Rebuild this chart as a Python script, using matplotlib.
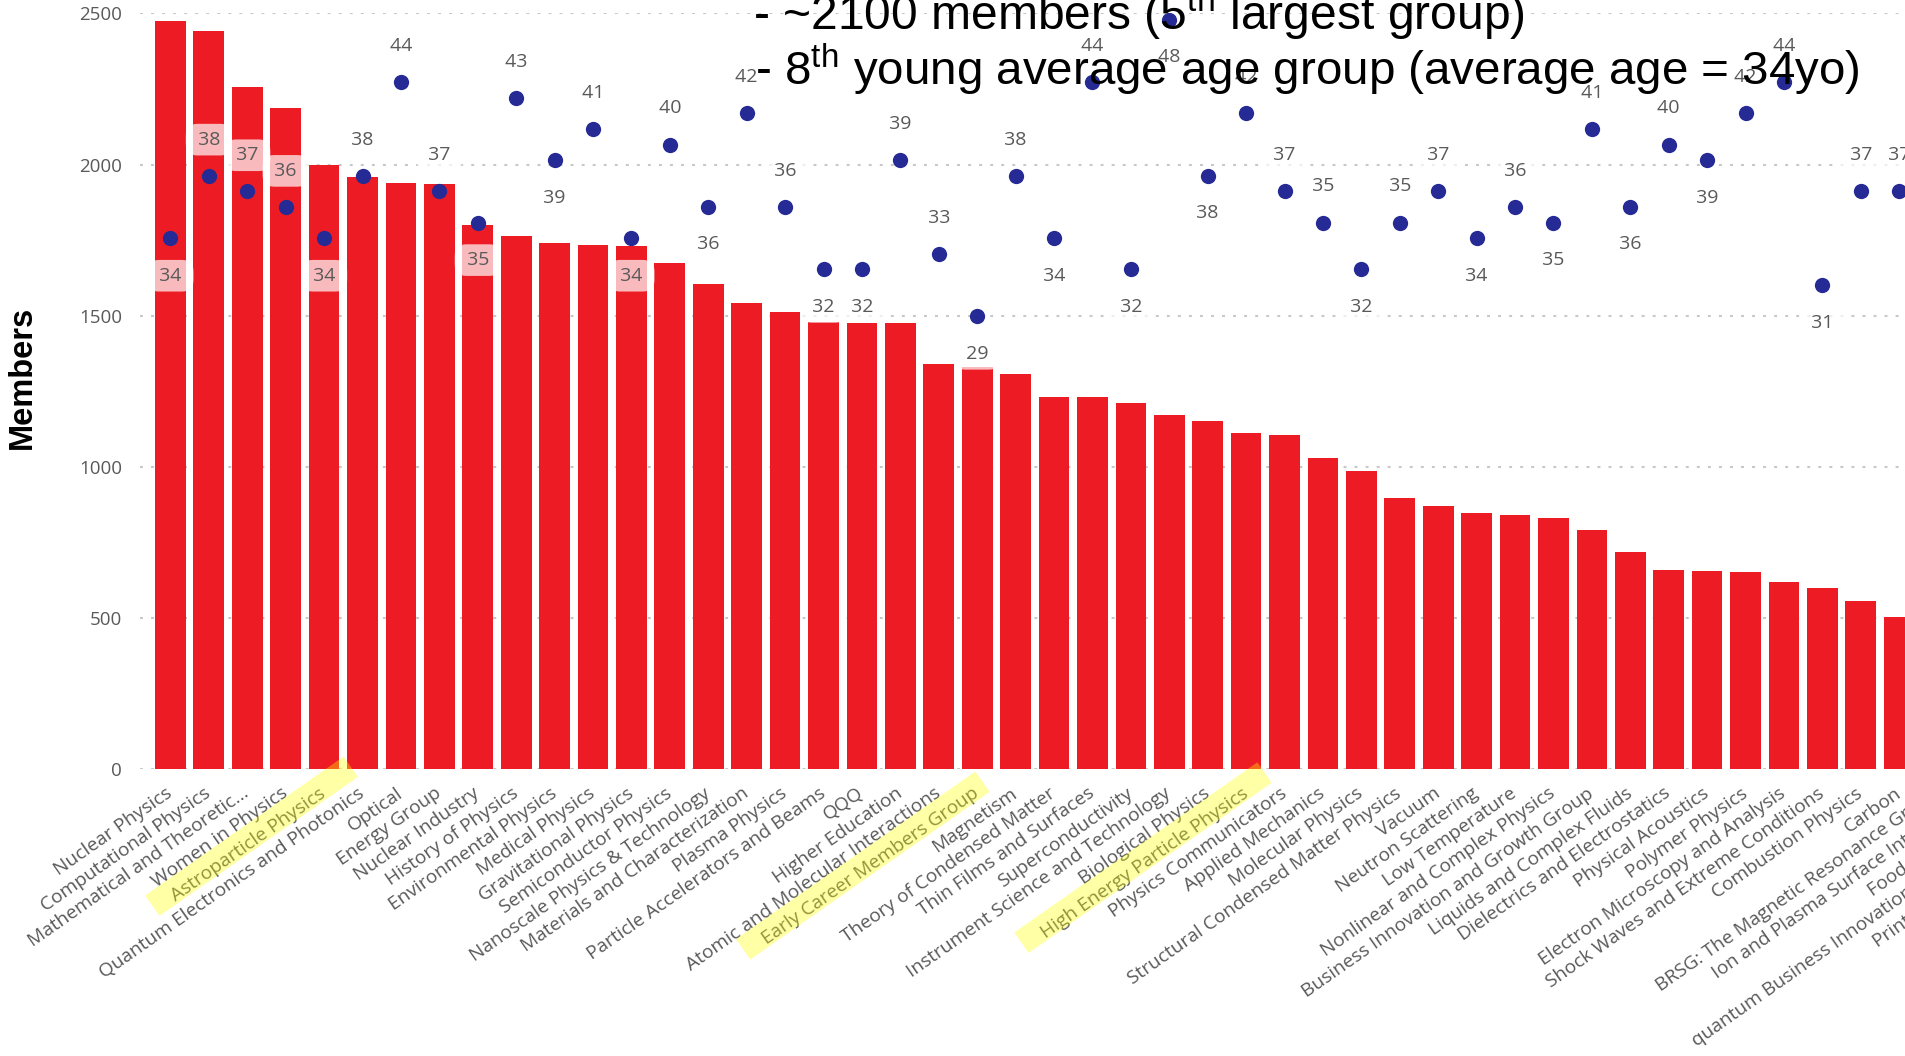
import math
import matplotlib
matplotlib.use("Agg")
import matplotlib.pyplot as plt
from matplotlib.patches import Polygon

# Special interest groups, ordered by membership
groups = [
    "Nuclear Physics", "Computational Physics", "Mathematical and Theoretic...",
    "Women in Physics", "Astroparticle Physics", "Quantum Electronics and Photonics",
    "Optical", "Energy Group", "Nuclear Industry", "History of Physics",
    "Environmental Physics", "Medical Physics", "Gravitational Physics",
    "Semiconductor Physics", "Nanoscale Physics & Technology",
    "Materials and Characterization", "Plasma Physics",
    "Particle Accelerators and Beams", "QQQ", "Higher Education",
    "Atomic and Molecular Interactions", "Early Career Members Group", "Magnetism",
    "Theory of Condensed Matter", "Thin Films and Surfaces", "Superconductivity",
    "Instrument Science and Technology", "Biological Physics",
    "High Energy Particle Physics", "Physics Communicators", "Applied Mechanics",
    "Molecular Physics", "Structural Condensed Matter Physics", "Vacuum",
    "Neutron Scattering", "Low Temperature", "Nonlinear and Complex Physics",
    "Business Innovation and Growth Group", "Liquids and Complex Fluids",
    "Dielectrics and Electrostatics", "Physical Acoustics", "Polymer Physics",
    "Electron Microscopy and Analysis", "Shock Waves and Extreme Conditions",
    "Combustion Physics", "Carbon", "BRSG: The Magnetic Resonance Group",
    "Ion and Plasma Surface Interactions", "Food Physics Group",
    "quantum Business Innovation and Growth Group", "Printing and Graphics Science",
]

# members for the groups that are visible in the picture
members = [
    2475, 2440, 2255, 2186, 2000, 1960, 1940, 1935, 1800, 1763, 1740, 1735,
    1730, 1673, 1605, 1541, 1511, 1479, 1477, 1477, 1339, 1330, 1307, 1230,
    1230, 1210, 1172, 1152, 1112, 1107, 1028, 986, 897, 872, 848, 841, 832,
    792, 720, 660, 656, 652, 618, 598, 558, 503,
]

avg_age = [
    34, 38, 37, 36, 34, 38, 44, 37, 35, 43, 39, 41, 34, 40, 36, 42, 36, 32,
    32, 39, 33, 29, 38, 34, 44, 32, 48, 38, 42, 37, 35, 32, 35, 37, 34, 36,
    35, 41, 36, 40, 39, 42, 44, 31, 37, 37,
]

# a = label above the dot, b = below
label_pos = ("b a a a b a a a b a b a b a b a a b b a a b a b a b "
             "b b a a a b a a b a b a b a b a a b a a").split()

# highlighted group names: (extra length before, extra length after) in px
highlighted = {
    "Astroparticle Physics": (22, 36),
    "Early Career Members Group": (22, 10),
    "High Energy Particle Physics": (22, 26),
}

plt.rcParams['mathtext.fontset'] = 'custom'
plt.rcParams['mathtext.rm'] = 'Liberation Sans'
plt.rcParams['mathtext.it'] = 'Liberation Sans:italic'
plt.rcParams['mathtext.bf'] = 'Liberation Sans:bold'

gray = '#595959'
lab_font = 'Open Sans'
rot = 35

fig = plt.figure(figsize=(19.06, 10.56), dpi=100)
ax = fig.add_axes([0.0735, 0.2715, 1.0338, 0.7159])

x = list(range(len(members)))
ax.bar(x, members, width=0.8, color='#ED1C24', zorder=2)
ax.set_xlim(-0.79, 50.5)
ax.set_ylim(0, 2500)
ax.set_yticks(range(0, 2501, 500))
ax.set_axisbelow(True)
ax.yaxis.grid(True, color='#C8C8C8', linewidth=1.5, linestyle=(0, (1.4, 3.9)))
ax.set_xticks(range(len(groups)))
ax.set_xticklabels(groups, rotation=rot, ha='right', va='center',
                   rotation_mode='anchor', fontsize=13.8, color=gray,
                   family=lab_font)
ax.tick_params(axis='x', length=0, pad=16)
ax.tick_params(axis='y', length=0, pad=13, labelsize=13.5, labelcolor=gray)
for t in ax.get_yticklabels():
    t.set_family(lab_font)
for s in ax.spines.values():
    s.set_visible(False)

# average age on a hidden second axis
ax2 = ax.twinx()
ax2.set_ylim(0, 48.4)
ax2.set_axis_off()
ax2.plot(x, avg_age, 'o', ms=11, color='#252A95', mec='none', zorder=3)
for i, (a, p) in enumerate(zip(avg_age, label_pos)):
    off = 26 if p == 'a' else -27
    ax2.annotate(f' {a} ', (i, a), xytext=(0, off), textcoords='offset points',
                 ha='center', va='center', fontsize=14, color=gray,
                 family=lab_font, zorder=4,
                 bbox=dict(boxstyle='round,pad=0.35,rounding_size=0.6',
                           fc='white', ec='none', alpha=0.7))

fig.text(22 / 1906, 1 - 377 / 1056, 'Members', rotation=90, fontsize=23.5,
         fontweight='bold', family='Liberation Sans', ha='center', va='center')

fig.text(753 / 1906, 1 - 30 / 1056,
         r'- ~2100 members (5$^{\mathrm{th}}$ largest group)',
         fontsize=34.6, family='Liberation Sans', ha='left', va='baseline')
fig.text(755 / 1906, 1 - 85 / 1056,
         r'- 8$^{\mathrm{th}}$ young average age group (average age = 34yo)',
         fontsize=34.2, family='Liberation Sans', ha='left', va='baseline')

# yellow highlight over some group names
fig.canvas.draw()
renderer = fig.canvas.get_renderer()
ux, uy = math.cos(math.radians(rot)), math.sin(math.radians(rot))
nx, ny = -uy, ux
thick = 25
shift = 5
for lbl in ax.get_xticklabels():
    name = lbl.get_text()
    if name in highlighted:
        before, after = highlighted[name]
        bb = lbl.get_window_extent(renderer)
        cx = (bb.x0 + bb.x1) / 2 + nx * shift
        cy = (bb.y0 + bb.y1) / 2 + ny * shift
        w, h, d = renderer.get_text_width_height_descent(
            name, lbl.get_fontproperties(), ismath=False)
        a0 = -(w / 2 + before)
        a1 = w / 2 + after
        pts = []
        for along, across in [(a0, -thick / 2), (a1, -thick / 2),
                              (a1, thick / 2), (a0, thick / 2)]:
            pts.append((cx + ux * along + nx * across,
                        cy + uy * along + ny * across))
        fig.patches.append(Polygon(pts, closed=True, transform=None,
                                   facecolor='#FFFF00', edgecolor='none',
                                   alpha=0.35, zorder=5, figure=fig))

fig.savefig('out.png', dpi=100)
